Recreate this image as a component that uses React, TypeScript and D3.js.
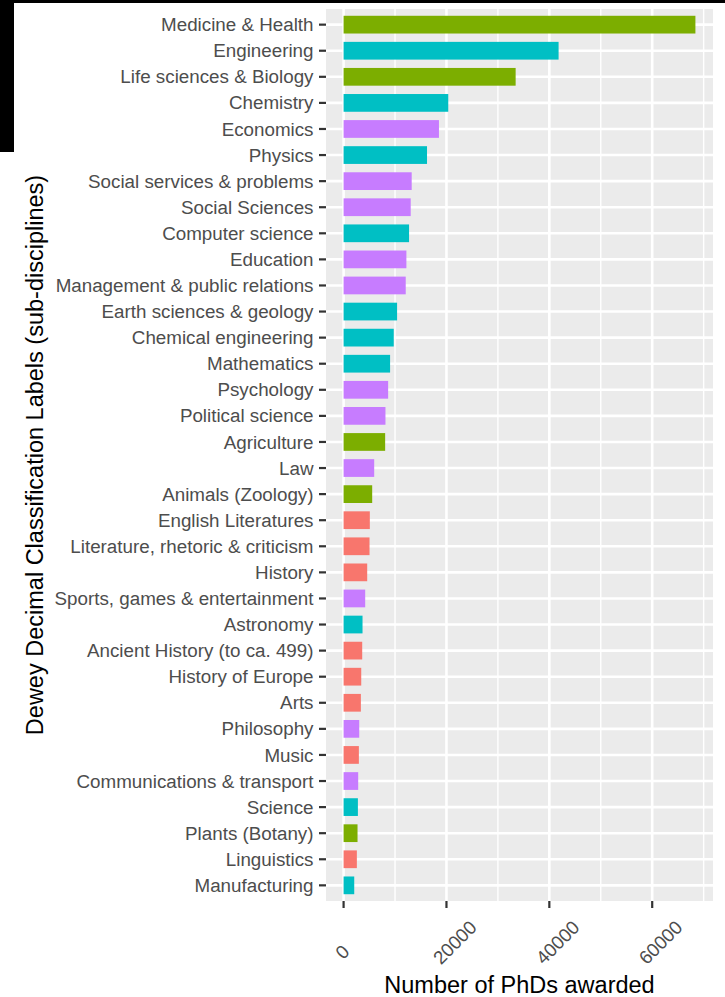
import React from "react";
import * as d3 from "d3";

const categories = [
  "Medicine & Health", "Engineering", "Life sciences & Biology", "Chemistry", "Economics",
  "Physics", "Social services & problems", "Social Sciences", "Computer science", "Education",
  "Management & public relations", "Earth sciences & geology", "Chemical engineering", "Mathematics",
  "Psychology", "Political science", "Agriculture", "Law", "Animals (Zoology)", "English Literatures",
  "Literature, rhetoric & criticism", "History", "Sports, games & entertainment", "Astronomy",
  "Ancient History (to ca. 499)", "History of Europe", "Arts", "Philosophy", "Music",
  "Communications & transport", "Science", "Plants (Botany)", "Linguistics", "Manufacturing",
];

const values = [
  68400, 41800, 33450, 20350, 18540,
  16220, 13240, 13050, 12730, 12210,
  12080, 10400, 9750, 9040,
  8660, 8140, 8080, 5950, 5560, 5100,
  5040, 4590, 4200, 3680,
  3620, 3430, 3360, 3040, 2970,
  2840, 2780, 2710, 2580, 2070,
];

// group: A = humanities, B = life/health, C = sciences/engineering, D = social
const groups = [
  "B", "C", "B", "C", "D",
  "C", "D", "D", "C", "D",
  "D", "C", "C", "C",
  "D", "D", "B", "D", "B", "A",
  "A", "A", "D", "C",
  "A", "A", "A", "D", "A",
  "D", "C", "B", "A", "C",
];

const groupKeys = ["A", "B", "C", "D"];
const groupColors = ["#F8766D", "#7CAE00", "#00BFC4", "#C77CFF"];

const majorTicks = [0, 20000, 40000, 60000];
const minorTicks = [10000, 30000, 50000, 70000];

const W = 725;
const H = 997;
const P = { left: 326, right: 713, top: 9, bottom: 901 };
const FONT = "'Liberation Sans', Arial, Helvetica, sans-serif";

export default function App() {
  const maxV = d3.max(values) as number;
  const pad = maxV * 0.05;
  const x = d3.scaleLinear().domain([-pad, maxV + pad]).range([P.left, P.right]);
  const y = d3
    .scaleBand<string>()
    .domain(categories)
    .range([P.top, P.bottom])
    .paddingInner(0.33)
    .paddingOuter(0.265);
  const color = d3.scaleOrdinal<string, string>().domain(groupKeys).range(groupColors);
  const yc = (c: string) => (y(c) as number) + y.bandwidth() / 2;
  const step = y.step();
  const barH = step * 0.68;

  const tickFont = 18.8;

  return (
    <div style={{ position: "absolute", left: 0, top: 0 }}>
      <svg width={W} height={H} style={{ display: "block", background: "#FFFFFF" }}>
        <rect x={0} y={0} width={W} height={H} fill="#FFFFFF" />
        <rect x={0} y={0} width={W} height={3} fill="#000000" />
        <rect x={0} y={0} width={14} height={152} fill="#000000" />

        <rect x={P.left} y={P.top} width={P.right - P.left} height={P.bottom - P.top} fill="#EBEBEB" />

        {minorTicks.map((t) => (
          <line key={"mn" + t} x1={x(t)} x2={x(t)} y1={P.top} y2={P.bottom} stroke="#FFFFFF" strokeWidth={1.4} />
        ))}
        {majorTicks.map((t) => (
          <line key={"mj" + t} x1={x(t)} x2={x(t)} y1={P.top} y2={P.bottom} stroke="#FFFFFF" strokeWidth={2.6} />
        ))}
        {categories.map((c) => (
          <line key={"hg" + c} x1={P.left} x2={P.right} y1={yc(c)} y2={yc(c)} stroke="#FFFFFF" strokeWidth={2.6} />
        ))}

        {categories.map((c, i) => (
          <rect
            key={"bar" + c}
            x={x(0)}
            y={yc(c) - barH / 2}
            width={x(values[i]) - x(0)}
            height={barH}
            fill={color(groups[i])}
          />
        ))}

        {/* y axis ticks and labels */}
        {categories.map((c) => (
          <g key={"yt" + c}>
            <line x1={P.left - 7} x2={P.left} y1={yc(c)} y2={yc(c)} stroke="#333333" strokeWidth={2.2} />
            <text
              x={313.5}
              y={yc(c)}
              dy="0.35em"
              textAnchor="end"
              fontFamily={FONT}
              fontSize={tickFont}
              fill="#4D4D4D"
            >
              {c}
            </text>
          </g>
        ))}

        {/* x axis ticks and labels */}
        {majorTicks.map((t) => {
          const label = String(t);
          const L = label.length * 0.556 * tickFont;
          const s = 0.707 * 0.32 * L;
          const cx = x(t) + s - 3.6;
          const cy = 954.3 - s;
          return (
            <g key={"xt" + t}>
              <line x1={x(t)} x2={x(t)} y1={P.bottom} y2={P.bottom + 7} stroke="#333333" strokeWidth={2.2} />
              <text
                transform={`translate(${cx},${cy}) rotate(-45)`}
                dy="0.35em"
                textAnchor="middle"
                fontFamily={FONT}
                fontSize={tickFont}
                fill="#4D4D4D"
              >
                {label}
              </text>
            </g>
          );
        })}

        <text x={(P.left + P.right) / 2} y={993} textAnchor="middle" fontFamily={FONT} fontSize={23.5} fill="#000000">
          Number of PhDs awarded
        </text>
        <text
          transform={`translate(43,${(P.top + P.bottom) / 2}) rotate(-90)`}
          textAnchor="middle"
          fontFamily={FONT}
          fontSize={23.5}
          fill="#000000"
        >
          Dewey Decimal Classification Labels (sub-disciplines)
        </text>
      </svg>
    </div>
  );
}
